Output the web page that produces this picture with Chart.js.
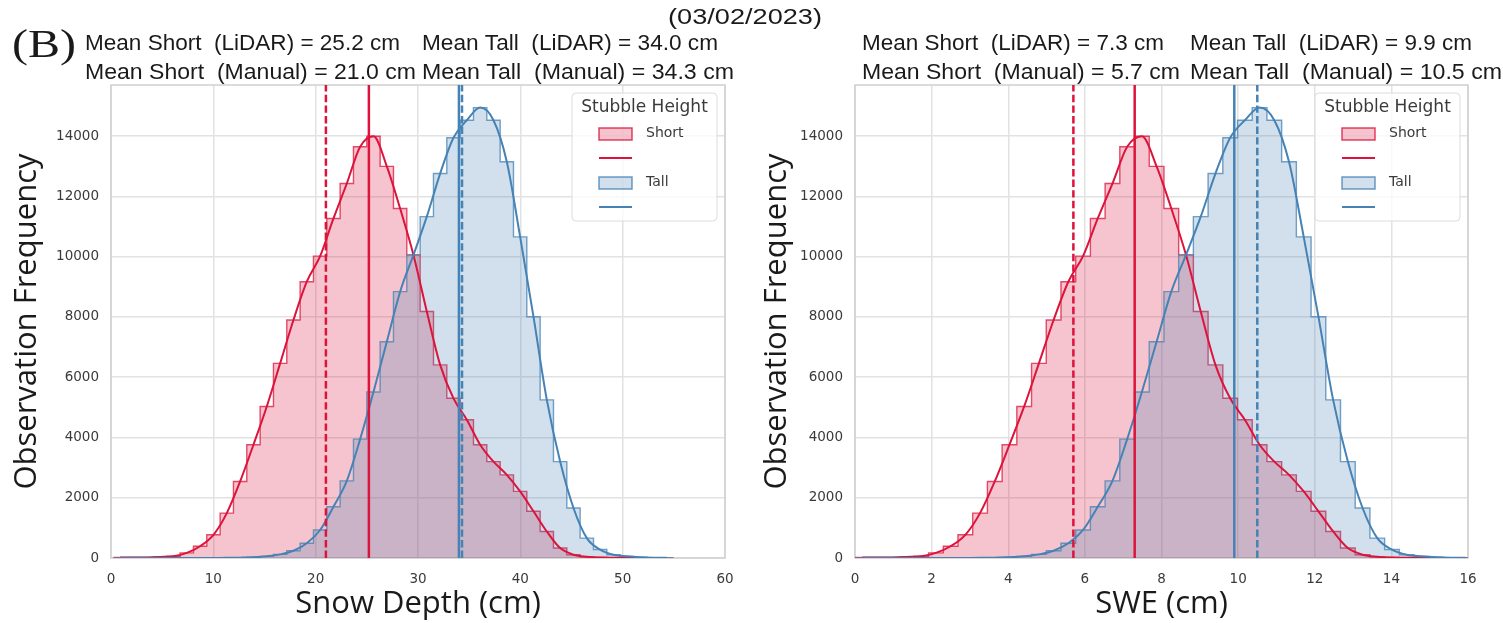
<!DOCTYPE html>
<html>
<head>
<meta charset="utf-8">
<script src="https://cdn.jsdelivr.net/npm/chart.js@4.4.1/dist/chart.umd.min.js"></script>
<style>
  html, body { margin: 0; padding: 0; background: #fff; }
  #page { position: relative; width: 1503px; height: 623px; overflow: hidden; }
  .panel { position: absolute; top: 0; }
  #header { position: absolute; left: 0; top: 0; pointer-events: none; }
</style>
</head>
<body>
<div id="page">
  <div class="panel" style="left:0"><canvas id="depthChart" width="750" height="623"></canvas></div>
  <div class="panel" style="left:750px"><canvas id="sweChart" width="753" height="623"></canvas></div>
  <canvas id="header" width="1503" height="40"></canvas>
</div>
<script>
// histogram bins (common to both stubble groups)
const depthBinStart = 0.24;
const depthBinWidth = 1.303;
const sweBinStart = 0.0;
const sweBinWidth = 0.384;

// observations per bin; the SWE panel uses the same observations, rescaled
const shortCounts = [15, 15, 20, 35, 60, 170, 390, 770, 1490, 2540, 3760, 5030, 6460, 7900,
  9170, 10020, 11270, 12430, 13650, 14000, 13000, 11600, 10060, 8180, 6410, 5300, 4590,
  3760, 3200, 2760, 2210, 1550, 880, 330, 110, 40, 15, 8, 5, 3, 2, 1];
const tallCounts = [0, 0, 0, 0, 0, 0, 1, 3, 5, 12, 25, 55, 120, 240, 490, 930, 1700, 2560,
  3945, 5510, 7180, 8840, 10060, 11330, 12760, 13950, 14530, 14950, 14530, 13150, 10660,
  8010, 5250, 3200, 1660, 660, 280, 110, 55, 25, 10, 5];

const stubbleGroups = ['Short', 'Tall'];
const depthMeansLidar = [25.2, 34.0];
const depthMeansManual = [21.0, 34.3];
const sweMeansLidar = [7.3, 9.9];
const sweMeansManual = [5.7, 10.5];

const depthAxis = [0, 60, 10];
const sweAxis = [0, 16, 2];
const freqMax = 15700;
const freqStep = 2000;

const surveyDate = '(03/02/2023)';
const panelTag = '(B)';

const RED = '220, 20, 60';
const BLUE = '70, 130, 180';
const groupColors = [RED, BLUE];

function histPoints(start, width, counts) {
  const pts = counts.map((c, i) => ({ x: start + i * width, y: c }));
  pts.push({ x: start + counts.length * width, y: counts[counts.length - 1] });
  return pts;
}

function kdePoints(start, width, counts) {
  return counts.map((c, i) => ({ x: start + (i + 0.5) * width, y: c }));
}

// draw text squeezed/stretched to a given width
function fitText(ctx, text, x, y, width, font) {
  ctx.save();
  ctx.font = font;
  ctx.textBaseline = 'middle';
  ctx.textAlign = 'left';
  const w = ctx.measureText(text).width;
  ctx.translate(x, y);
  ctx.scale(width / w, 1);
  ctx.fillText(text, 0, 0);
  ctx.restore();
}

const frame = {
  id: 'frame',
  beforeDatasetsDraw(chart) {
    const { ctx, chartArea: a } = chart;
    ctx.save();
    ctx.strokeStyle = '#cfcfcf';
    ctx.lineWidth = 1.5;
    ctx.strokeRect(a.left, a.top, a.right - a.left, a.bottom - a.top);
    ctx.restore();
  }
};

const stubbleLegend = {
  id: 'stubbleLegend',
  afterDatasetsDraw(chart) {
    const { ctx, chartArea: a } = chart;
    const w = 145, h = 128;
    const x = a.right - 8 - w, y = a.top + 8;
    ctx.save();
    ctx.beginPath();
    ctx.roundRect(x, y, w, h, 4);
    ctx.fillStyle = 'rgba(255,255,255,0.8)';
    ctx.fill();
    ctx.strokeStyle = '#dcdcdc';
    ctx.lineWidth = 1;
    ctx.stroke();
    ctx.fillStyle = '#3a3a3a';
    ctx.textBaseline = 'middle';
    ctx.textAlign = 'center';
    ctx.font = '17px "DejaVu Sans"';
    ctx.fillText('Stubble Height', x + w / 2, y + 15);
    ctx.textAlign = 'left';
    ctx.font = '14px "DejaVu Sans"';
    stubbleGroups.forEach((g, k) => {
      const c = groupColors[k];
      const py = y + 35 + k * 49;
      ctx.beginPath();
      ctx.rect(x + 27, py, 33, 12);
      ctx.fillStyle = `rgba(${c}, 0.25)`;
      ctx.fill();
      ctx.strokeStyle = `rgba(${c}, 0.8)`;
      ctx.lineWidth = 1.5;
      ctx.stroke();
      ctx.fillStyle = '#3a3a3a';
      ctx.fillText(g, x + 74, py + 5);
      ctx.beginPath();
      ctx.moveTo(x + 27, py + 30);
      ctx.lineTo(x + 60, py + 30);
      ctx.strokeStyle = `rgb(${c})`;
      ctx.lineWidth = 2;
      ctx.stroke();
    });
    ctx.restore();
  }
};

const meanHeader = {
  id: 'meanHeader',
  afterDraw(chart) {
    const o = chart.options.plugins.meanHeader;
    const ctx = chart.ctx;
    ctx.save();
    ctx.fillStyle = '#1a1a1a';
    const font = '22px "Liberation Sans"';
    stubbleGroups.forEach((g, k) => {
      fitText(ctx, `Mean ${g}  (LiDAR) = ${o.lidar[k].toFixed(1)} cm`, o.x[k], 44, o.w[k][0], font);
      fitText(ctx, `Mean ${g}  (Manual) = ${o.manual[k].toFixed(1)} cm`, o.x[k], 73, o.w[k][1], font);
    });
    if (o.tag) {
      fitText(ctx, o.tag, 12, 46, 64, '40px "Liberation Serif"');
    }
    ctx.restore();
  }
};

function buildChart(id, unitTitle, binStart, binWidth, axis, lidar, manual, layout, header) {
  const datasets = [];
  [shortCounts, tallCounts].forEach((counts, k) => {
    const c = groupColors[k];
    datasets.push({
      data: histPoints(binStart, binWidth, counts),
      stepped: true,
      fill: 'origin',
      backgroundColor: `rgba(${c}, 0.25)`,
      borderColor: `rgba(${c}, 0.75)`,
      borderWidth: 1.4,
      pointRadius: 0,
      order: 10 - k
    });
  });
  [shortCounts, tallCounts].forEach((counts, k) => {
    datasets.push({
      data: kdePoints(binStart, binWidth, counts),
      cubicInterpolationMode: 'monotone',
      fill: false,
      borderColor: `rgb(${groupColors[k]})`,
      borderWidth: 2,
      pointRadius: 0,
      order: 6 - k
    });
  });
  stubbleGroups.forEach((g, k) => {
    const c = `rgb(${groupColors[k]})`;
    datasets.push({
      data: [{ x: manual[k], y: 0 }, { x: manual[k], y: freqMax }],
      borderColor: c, borderWidth: 2.5, borderDash: [7.4, 3.2],
      pointRadius: 0, fill: false, order: 2 - k
    });
    datasets.push({
      data: [{ x: lidar[k], y: 0 }, { x: lidar[k], y: freqMax }],
      borderColor: c, borderWidth: 2.5,
      pointRadius: 0, fill: false, order: 2 - k
    });
  });

  return new Chart(document.getElementById(id), {
    type: 'line',
    data: { datasets },
    options: {
      responsive: false,
      animation: false,
      layout: { padding: { left: 0, top: 85, right: layout.right, bottom: 0 } },
      plugins: {
        legend: { display: false },
        tooltip: { enabled: false },
        meanHeader: header
      },
      scales: {
        x: {
          type: 'linear',
          min: axis[0],
          max: axis[1],
          afterFit(scale) { scale.height = 65; },
          ticks: { stepSize: axis[2], color: '#3a3a3a', padding: 13,
            callback: v => String(v), font: { family: 'DejaVu Sans', size: 13.5 } },
          grid: { color: '#e2e2e2', lineWidth: 1.5, drawTicks: false },
          border: { display: false },
          title: { display: true, text: unitTitle, color: '#1a1a1a', padding: { top: 0, bottom: 0 },
            font: { family: 'Open Sans', size: 31 } }
        },
        y: {
          type: 'linear',
          min: 0,
          max: freqMax,
          afterFit(scale) { scale.width = layout.left; },
          afterBuildTicks(scale) {
            const ticks = [];
            for (let v = 0; v <= freqMax; v += freqStep) ticks.push({ value: v });
            scale.ticks = ticks;
          },
          ticks: { color: '#3a3a3a', padding: 12, callback: v => String(v),
            font: { family: 'DejaVu Sans', size: 13.5 } },
          grid: { color: '#e2e2e2', lineWidth: 1.5, drawTicks: false },
          border: { display: false },
          title: { display: true, text: 'Observation Frequency', color: '#1a1a1a', padding: { top: 9, bottom: 0 },
            font: { family: 'Open Sans', size: 31 } }
        }
      }
    },
    plugins: [frame, stubbleLegend, meanHeader]
  });
}

buildChart('depthChart', 'Snow Depth (cm)', depthBinStart, depthBinWidth, depthAxis,
  depthMeansLidar, depthMeansManual, { left: 111, right: 25 },
  { lidar: depthMeansLidar, manual: depthMeansManual, x: [85, 422], w: [[315, 331], [296, 312]], tag: panelTag });

buildChart('sweChart', 'SWE (cm)', sweBinStart, sweBinWidth, sweAxis,
  sweMeansLidar, sweMeansManual, { left: 105, right: 35 },
  { lidar: sweMeansLidar, manual: sweMeansManual, x: [112, 440], w: [[302, 318], [282, 312]], tag: null });

const hctx = document.getElementById('header').getContext('2d');
hctx.fillStyle = '#1a1a1a';
fitText(hctx, surveyDate, 668, 18, 154, '22px "Liberation Sans"');
</script>
</body>
</html>
